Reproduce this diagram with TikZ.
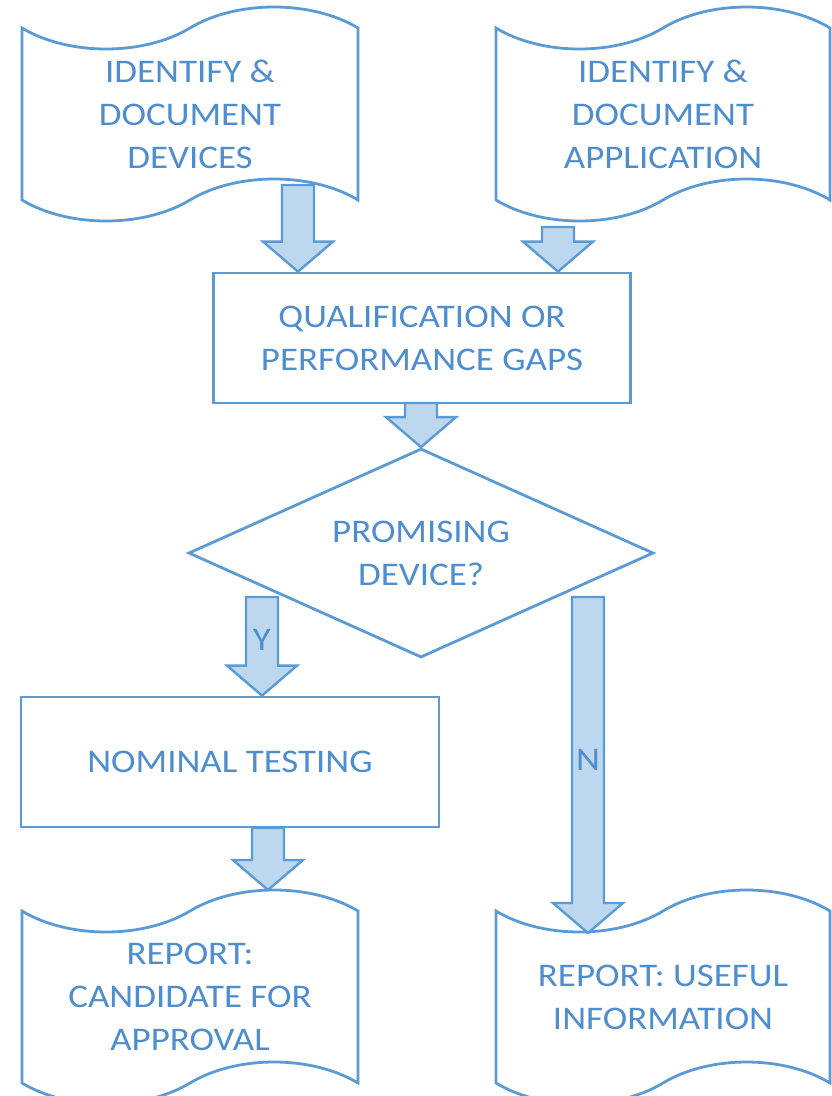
\documentclass[tikz,border=0pt]{standalone}
\usepackage{fontspec}
\setmainfont{Carlito}[FakeStretch=1.12]
\usetikzlibrary{positioning,calc,shapes.symbols,shapes.geometric}

\definecolor{flowline}{RGB}{91,155,213}
\definecolor{flowtext}{RGB}{78,141,206}
\definecolor{flowfill}{RGB}{189,215,238}

\tikzset{
  base/.style={draw=flowline, line width=2.8pt, text=flowtext, align=center,
    font=\fontsize{33}{43}\selectfont, inner sep=0pt},
  tapebox/.style={base, shape=tape, tape bend top=in and out, tape bend bottom=in and out,
    tape bend height=42pt, minimum width=336pt, minimum height=214pt},
  procbox/.style={base, rectangle, minimum width=417pt, minimum height=130pt},
  decision/.style={base, diamond, aspect=2.2, minimum width=465pt, minimum height=209pt},
  flag/.style={text=flowtext, font=\fontsize{33}{43}\selectfont, inner sep=0pt},
  blockarrow/.style={draw=flowline, fill=flowfill, line width=2.4pt, line join=miter,
    to path={let \p1=(\tikztostart), \p2=(\tikztotarget) in
      (\x1-16pt,\y1) -- (\x1-16pt,\y2+30pt) -- (\x1-35pt,\y2+30pt) -- (\x1,\y2)
      -- (\x1+35pt,\y2+30pt) -- (\x1+16pt,\y2+30pt) -- (\x1+16pt,\y1) -- cycle}}
}

\begin{document}
\begin{tikzpicture}[x=1pt,y=-1pt]
  \useasboundingbox (0,0) rectangle (832,1096);

  \node[tapebox] (devices) at (190,114) {IDENTIFY \&\\DOCUMENT\\DEVICES};
  \node[tapebox, minimum width=334pt] (application) at (663,114) {IDENTIFY \&\\DOCUMENT\\APPLICATION};
  \node[procbox] (gaps) at (422,338) {QUALIFICATION OR\\PERFORMANCE GAPS};
  \node[decision] (promising) at (421,553) {PROMISING\\DEVICE?};
  \node[procbox, minimum width=418pt] (nominal) at (230,762) {NOMINAL TESTING};
  \node[tapebox] (candidate) at (190,997) {REPORT:\\CANDIDATE FOR\\APPROVAL};
  \node[tapebox, minimum width=334pt] (useful) at (663,997) {REPORT: USEFUL\\INFORMATION};

  \coordinate (tail1) at (298,185);
  \coordinate (tail2) at (558,227);
  \coordinate (tail3) at (421,403);
  \coordinate (tailY) at (262,597);
  \coordinate (tailN) at (588,597);
  \coordinate (tipN) at (588,933);
  \coordinate (tailR) at (268,828);
  \coordinate (tipR) at (268,890);

  \path
    (tail1) edge[blockarrow] (tail1 |- gaps.north)
    (tail2) edge[blockarrow] (tail2 |- gaps.north)
    (tail3) edge[blockarrow] (promising.north)
    (tailY) edge[blockarrow] (tailY |- nominal.north)
    (tailN) edge[blockarrow] (tipN)
    (tailR) edge[blockarrow] (tipR);

  \node[flag] (yes) at (262,640) {Y};
  \node[flag] (no) at (588,760) {N};
\end{tikzpicture}
\end{document}
